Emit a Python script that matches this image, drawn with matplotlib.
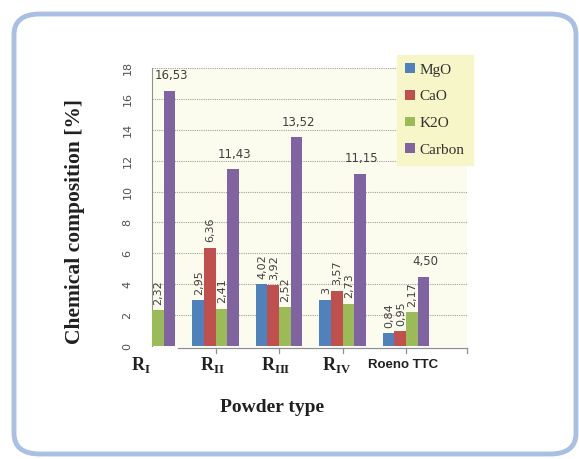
import matplotlib
matplotlib.use("Agg")
import matplotlib.pyplot as plt
import numpy as np
from matplotlib.patches import FancyBboxPatch
from matplotlib.lines import Line2D

categories = [r"$\mathbf{R}_{\mathbf{I}}$", r"$\mathbf{R}_{\mathbf{II}}$",
              r"$\mathbf{R}_{\mathbf{III}}$", r"$\mathbf{R}_{\mathbf{IV}}$", "Roeno TTC"]
series = ["MgO", "CaO", "K2O", "Carbon"]
mgo = [0, 2.95, 4.02, 3.00, 0.84]
cao = [0, 6.36, 3.92, 3.57, 0.95]
k2o = [2.32, 2.41, 2.52, 2.73, 2.17]
carbon = [16.53, 11.43, 13.52, 11.15, 4.50]
labels_mgo = ["", "2,95", "4,02", "3", "0,84"]
labels_cao = ["", "6,36", "3,92", "3,57", "0,95"]
labels_k2o = ["2,32", "2,41", "2,52", "2,73", "2,17"]
labels_carbon = ["16,53", "11,43", "13,52", "11,15", "4,50"]
yticks = [0, 2, 4, 6, 8, 10, 12, 14, 16, 18]

colors = ["#4f81bd", "#c0504d", "#9bbb59", "#8064a2"]

plt.rcParams["mathtext.fontset"] = "custom"
plt.rcParams["mathtext.bf"] = "Liberation Serif:bold"
plt.rcParams["mathtext.rm"] = "Liberation Serif"

fig = plt.figure(figsize=(5.79, 4.59), dpi=100)
fig.patch.set_facecolor("white")

# rounded frame
frame = FancyBboxPatch((14/579, 5/459), (576-14)/579, (459-14-5)/459,
                       boxstyle="round,pad=0,rounding_size=0.045",
                       transform=fig.transFigure, facecolor="white",
                       edgecolor="#a9bfe3", linewidth=3.5, zorder=-10)
fig.patches.append(frame)

ax = fig.add_axes([152/579, 1-346/459, (467-152)/579, (346-68)/459])
ax.set_zorder(2)
ax.set_facecolor("#fbfbee")

x = np.arange(len(categories))
w = 0.183
data = [mgo, cao, k2o, carbon]
labs = [labels_mgo, labels_cao, labels_k2o]
for i, (vals, c, name) in enumerate(zip(data, colors, series)):
    pos = x + (i - 1.5) * w
    ax.bar(pos, vals, width=w, color=c, label=name, zorder=3, clip_on=True)
    if i < 3:
        for p, v, t in zip(pos, vals, labs[i]):
            if t:
                ax.text(p + 0.01, v + 0.35, t, rotation=90, ha="center", va="bottom",
                        fontsize=8, color="#404040", zorder=4)
    else:
        for p, v, t in zip(pos, vals, labels_carbon):
            ax.text(p + 0.03, v + 0.55, t, ha="center", va="bottom",
                    fontsize=8.5, color="#404040", zorder=4)

ax.set_xlim(0, 4.96)
ax.set_ylim(0, 18)
ax.set_yticks(yticks)
ax.set_yticklabels([str(v) for v in yticks], rotation=90, va="center",
                   fontsize=8, color="#505050")
ax.tick_params(axis="y", length=0, pad=14)
ax.grid(axis="y", linestyle=(0, (1, 1)), color="#a0a0a0", linewidth=0.8, zorder=1)

for s in ["top", "right", "bottom"]:
    ax.spines[s].set_visible(False)
ax.spines["left"].set_color("#909090")
ax.spines["left"].set_linewidth(0.8)

# x axis line starting after first group (as in reference)
ax.add_line(Line2D([0.41, 4.96], [-0.1, -0.1], color="#909090", linewidth=0.9,
                   clip_on=False, zorder=5))
ax.set_xticks(x)
ax.set_xticklabels([])
ax.tick_params(axis="x", length=0)
for xi in list(x[1:]) + [4.96]:
    ax.add_line(Line2D([xi, xi], [-0.1, -0.45], color="#909090", linewidth=0.9,
                       clip_on=False))

label_dx = [-0.17, -0.05, -0.05, -0.1, -0.05]
for xi, lab, dx in zip(x, categories, label_dx):
    if lab.startswith("$"):
        ax.text(xi + dx, -0.6, lab, ha="center", va="top", fontsize=13,
                color="#202020")
    else:
        ax.text(xi + dx, -0.85, lab, ha="center", va="top", fontsize=9.5,
                fontweight="bold", family="Liberation Sans",
                color="#202020")

fig.text(75/579, 1-222/459, "Chemical composition [%]", rotation=90,
         ha="center", va="center", fontsize=15.5, fontweight="bold",
         family="Liberation Serif", color="#202020")
fig.text(272/579, 1-408/459, "Powder type", ha="center", va="center",
         fontsize=14, fontweight="bold", family="Liberation Serif", color="#202020")

leg = fig.legend(loc="upper left", bbox_to_anchor=(397/579, 1-55/459),
                 frameon=True, fancybox=False,
                 prop={"family": "Liberation Serif", "size": 11},
                 handlelength=0.6, handleheight=0.6, handletextpad=0.3,
                 labelspacing=0.88, borderpad=0.55, borderaxespad=0)
leg.get_frame().set_facecolor("#f6f6c8")
leg.get_frame().set_edgecolor("#f6f6c8")
leg.get_frame().set_alpha(1)
leg.set_zorder(5)
for t in leg.get_texts():
    t.set_color("#303030")

fig.savefig("out.png", dpi=100)
